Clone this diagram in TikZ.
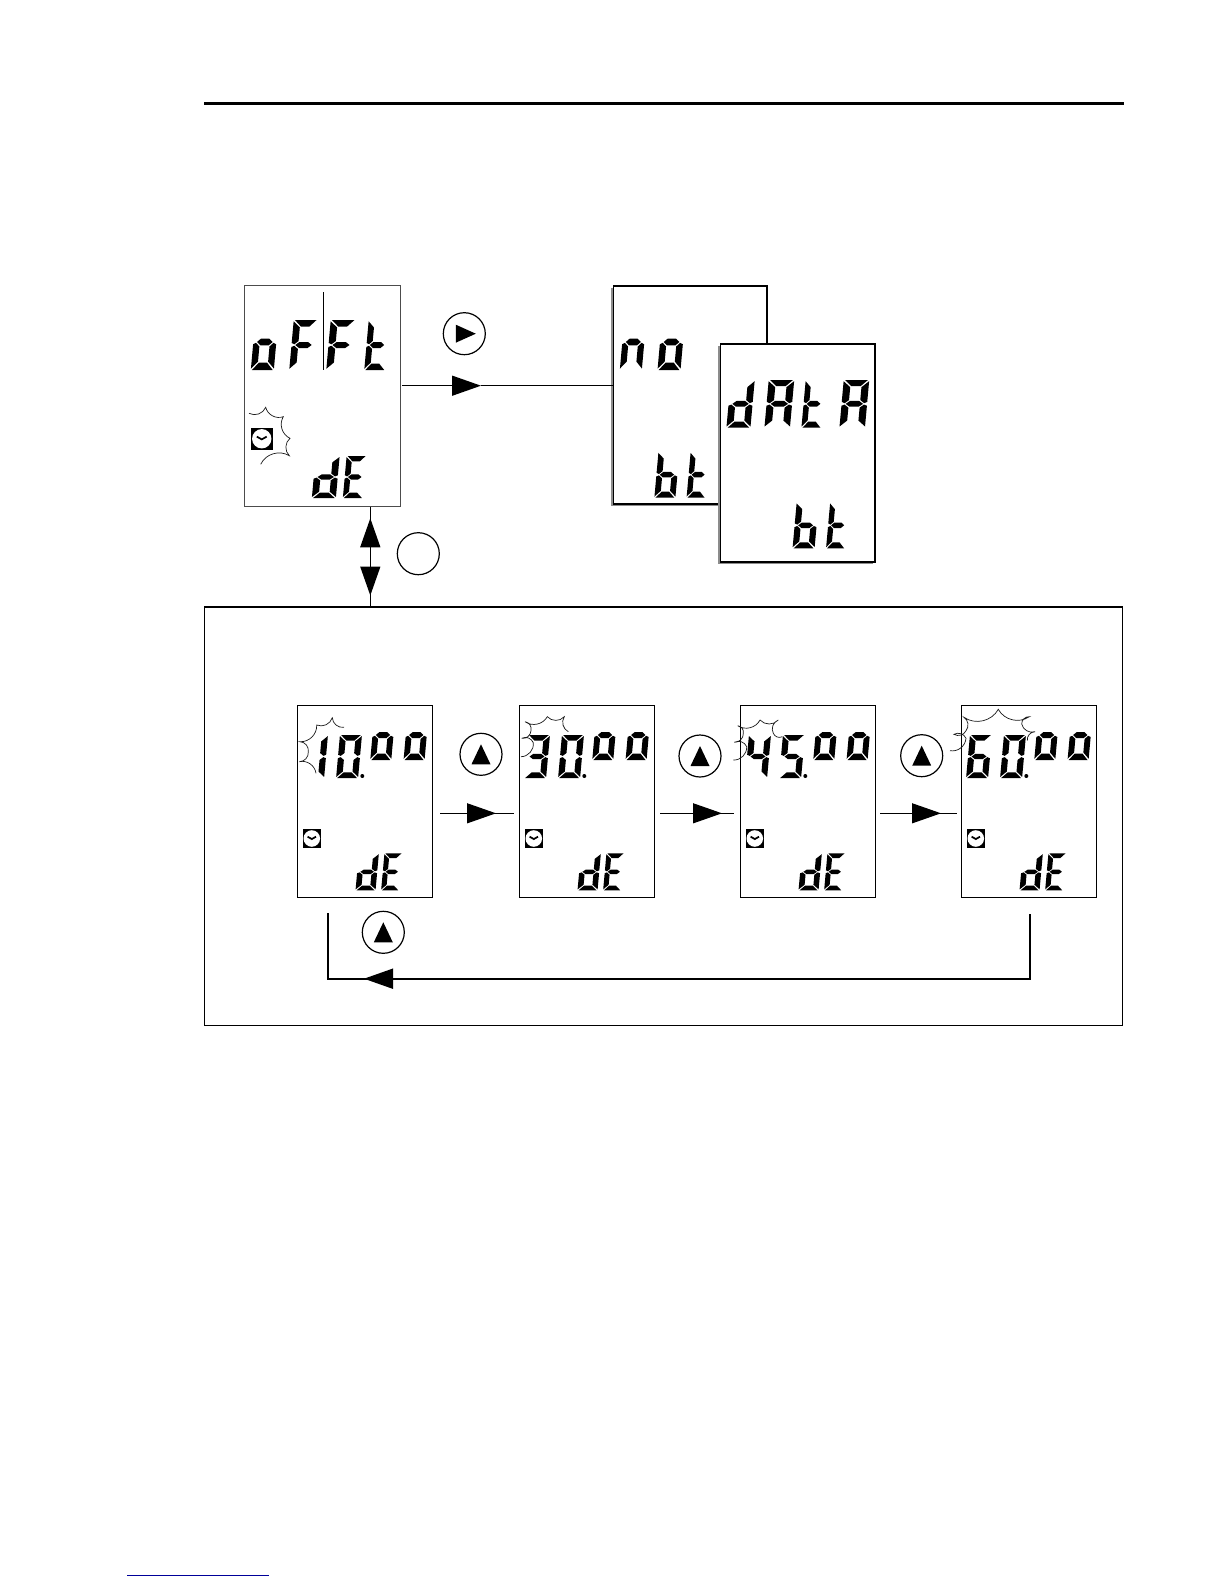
\documentclass[tikz,border=0pt]{standalone}
\usetikzlibrary{arrows.meta,calc,shadows}
\tikzset{tip/.style={-{Triangle[length=29pt,width=20pt,sharp]}},
  lcdbox/.style={draw, fill=white, anchor=north west, inner sep=0pt, outer sep=0pt, line width=1pt},
  paperbox/.style={lcdbox, line width=1.6pt, general shadow={shadow xshift=-2.2pt, shadow yshift=-2.2pt, fill=black!45}},
  btn/.style={draw, circle, inner sep=0pt, outer sep=0pt, minimum size=42pt, line width=1.2pt},
  link/.style={line width=1.4pt},
  flash/.style={line width=.7pt, black!90},
  spk/.style={bend right=48}}
% segments of one LCD digit: 1 wide, 2 high
\def\sega{(.05,0)--(.95,0)--(.68,.26)--(.32,.26)--cycle}
\def\segb{(1,.05)--(1,.92)--(.88,.97)--(.72,.84)--(.72,.3)--cycle}
\def\segc{(1,1.95)--(1,1.08)--(.88,1.03)--(.72,1.16)--(.72,1.7)--cycle}
\def\segd{(.05,2)--(.95,2)--(.68,1.74)--(.32,1.74)--cycle}
\def\sege{(0,1.95)--(0,1.08)--(.12,1.03)--(.28,1.16)--(.28,1.7)--cycle}
\def\segf{(0,.05)--(0,.92)--(.12,.97)--(.28,.84)--(.28,.3)--cycle}
\def\segg{(.16,1)--(.32,.88)--(.68,.88)--(.84,1)--(.68,1.12)--(.32,1.12)--cycle}
\def\chrzero{a,b,c,d,e,f}
\def\chrone{b,c}
\def\chrthree{a,b,c,d,g}
\def\chrfour{b,c,f,g}
\def\chrfive{a,c,d,f,g}
\def\chrsix{a,c,d,e,f,g}
\def\chro{c,d,e,g}
\def\chrn{c,e,g}
\def\chrF{a,e,f,g}
\def\chrt{d,e,f,g}
\def\chrd{b,c,d,e,g}
\def\chrE{a,d,e,f,g}
\def\chrb{c,d,e,f,g}
\def\chrA{a,b,c,e,f,g}
% x, y of the top left corner, width, height, digit name
\newcommand{\lcdchar}[5]{%
  \begin{scope}[shift={({#1+.015*#4},#2)},x=#3pt,y=-#4pt/2,xslant=.09]
    \expandafter\let\expandafter\seglist\csname chr#5\endcsname
    \foreach \s in \seglist {%
      \expandafter\let\expandafter\segpath\csname seg\s\endcsname
      \fill \segpath;}
  \end{scope}}
\newcommand{\lcdclock}[3]{%
  \fill (#1,#2) rectangle ++(#3,#3);
  \fill[white] (#1,#2) ++(#3/2,#3/2) circle ({#3*.45});
  \draw[line width=1.7pt] (#1,#2) ++({#3*.27},{#3*.4}) -- ++({#3*.23},{#3*.13}) -- ++({#3*.23},{-#3*.13});}
\newcommand{\upmark}[1]{\fill (#1) ++(-9.5,10) -- ++(19,0) -- ++(-9.5,-20) -- cycle;}

\begin{document}
\begin{tikzpicture}[x=1pt,y=-1pt]
  \useasboundingbox (0,0) rectangle (1224,1584);
  \coordinate (rulea) at (204,103.6);
  \coordinate (ruleb) at (1124,103.6);
  \draw[line width=3pt] (rulea) -- (ruleb);
  % offset display
  \node[lcdbox, draw=black!70, minimum width=156.4pt, minimum height=221.7pt] (offt) at (244.3,285) {};
  \lcdchar{255}{314}{23}{56}{o}
  \lcdchar{293}{320}{24}{50}{F}
  \lcdchar{330}{320}{25}{50}{F}
  \lcdchar{368}{320}{21}{50}{t}
  \lcdchar{315}{456}{24}{42}{d}
  \lcdchar{346}{456}{20}{42}{E}
  \coordinate (bara) at (323.7,292);
  \coordinate (barb) at (323.7,370);
  \draw[line width=1.3pt] (bara) -- (barb);
  \lcdclock{251}{428}{21.5}
  \draw[flash] (249,413.3) to[spk] (265.7,407.3) to[spk] (283.3,416.7) to[spk] (290,438.3) to[spk] (289.3,455.7) to[spk] (260.7,464.3);
  % no data displays
  \node[paperbox, minimum width=153.4pt, minimum height=218.3pt] (nobt) at (613.3,285.7) {};
  \lcdchar{624}{314}{22}{56}{n}
  \lcdchar{661.7}{314}{23}{56}{o}
  \lcdchar{657.8}{451.7}{21}{46}{b}
  \lcdchar{690}{451.7}{19}{46}{t}
  \node[paperbox, minimum width=154.4pt, minimum height=217.7pt] (dbt) at (720.3,344) {};
  \lcdchar{730}{380}{24}{47.7}{d}
  \lcdchar{768}{380}{25.5}{47.7}{A}
  \lcdchar{805}{380}{20}{47.7}{t}
  \lcdchar{843}{380}{25.5}{47.7}{A}
  \lcdchar{796}{502.3}{22}{46}{b}
  \lcdchar{829.5}{502.3}{19}{46}{t}
  \node[btn] (btnrun) at (464.3,333.7) {};
  \fill (btnrun) ++(-8.5,-9) -- ++(20,9) -- ++(-20,9) -- cycle;
  \coordinate (runa) at (402,385.7);
  \coordinate (runtip) at (481,385.7);
  \draw[link, tip] (runa) -- (runtip);
  \draw[link] (runtip) -- (nobt.west |- runtip);
  % frame and the link to it
  \node[lcdbox, line width=1.5pt, minimum width=918pt, minimum height=418.5pt] (frame) at (204.7,607) {};
  \node[btn] (btnmode) at (418.3,553.7) {};
  \coordinate (linkup) at (370.3,548);
  \coordinate (linkuptip) at (370.3,518.3);
  \coordinate (linkdn) at (370.3,566);
  \coordinate (linkdntip) at (370.3,595.5);
  \draw[link] (linkup |- offt.south) -- (linkup |- frame.north);
  \draw[link, tip] (linkup) -- (linkuptip);
  \draw[link, tip] (linkdn) -- (linkdntip);
  % time row
  \foreach \i/\bx/\dga/\dgb in {1/297.3/one/zero,2/519.3/three/zero,3/740.3/four/five,4/961.3/six/zero}{
    \node[lcdbox, minimum width=135pt, minimum height=192pt] (row\i) at (\bx,705.3) {};
    \begin{scope}[shift={(\bx,0)}]
      \lcdchar{8}{735}{22}{43}{\dga}
      \lcdchar{42}{735}{22}{43}{\dgb}
      \lcdchar{76.7}{710}{21}{50}{o}
      \lcdchar{110}{710}{21}{50}{o}
      \fill (65,776) circle (2);
      \lcdclock{5.3}{829.3}{18.4}
      \lcdchar{61}{853.3}{20}{37}{d}
      \lcdchar{86.6}{853.3}{18}{37}{E}
    \end{scope}}
  \draw[flash] (316,773.3) to[spk] (299.3,761.7) to[spk] (308.3,751.7) to[spk] (300,741.7) to[spk] (316.7,725) to[spk] (332.3,717.7) to[spk] (344,727.3);
  \draw[flash] (521,756.7) to[spk] (533.3,742.7) to[spk] (521.7,738.3) to[spk] (531,730.7) to[spk] (525,721.7) to[spk] (547.3,716.7) to[spk] (564.3,716.7) to[spk] (568.3,731.7);
  \draw[flash] (733.3,760) to[spk] (746.7,746.7) to[spk] (734.3,742.3) to[spk] (743.3,733.3) to[spk] (737.7,725.7) to[spk] (760,720) to[spk] (778.3,720) to[spk] (773.3,733.3) to[spk] (782.3,736.7);
  \draw[flash] (950,750.7) to[spk] (966,738.3) to[spk] (954,734.3) to[spk] (966,730.7) to[spk] (964,717.3) to[spk] (998.3,709.3) to[spk] (1029.3,716.7) to[spk] (1021.7,724) to[spk] (1035,731.7) to[spk] (1027.3,740.7);
  \foreach \i/\bx/\bt/\tipx/\xa/\xb in {1/481/754.3/496/440/514,2/700/756/722/660/734,3/921.7/755.7/941/880/957}{
    \node[btn] (btnup\i) at (\bx,\bt) {};
    \upmark{btnup\i}
    \coordinate (stepa\i) at (\xa,813.3);
    \coordinate (stepb\i) at (\xb,813.3);
    \coordinate (steptip\i) at (\tipx,813.3);
    \draw[line width=1.1pt] (stepa\i) -- (stepb\i);
    \draw[line width=1.1pt, tip] (stepa\i) -- (steptip\i);}
  % back to the first value
  \node[btn] (btnback) at (383.3,932.3) {};
  \upmark{btnback}
  \coordinate (backa) at (1030.3,914);
  \coordinate (backb) at (327.7,978.7);
  \coordinate (backc) at (327.7,913.3);
  \coordinate (backtip) at (364,978.7);
  \draw[line width=1.7pt] (backa) |- (backb) -- (backc);
  \draw[line width=1.7pt, tip] (backa |- backb) -- (backtip);
  \coordinate (linka) at (127,1575);
  \coordinate (linkb) at (269,1575);
  \draw[line width=1pt, blue!60!black] (linka) -- (linkb);
\end{tikzpicture}
\end{document}
